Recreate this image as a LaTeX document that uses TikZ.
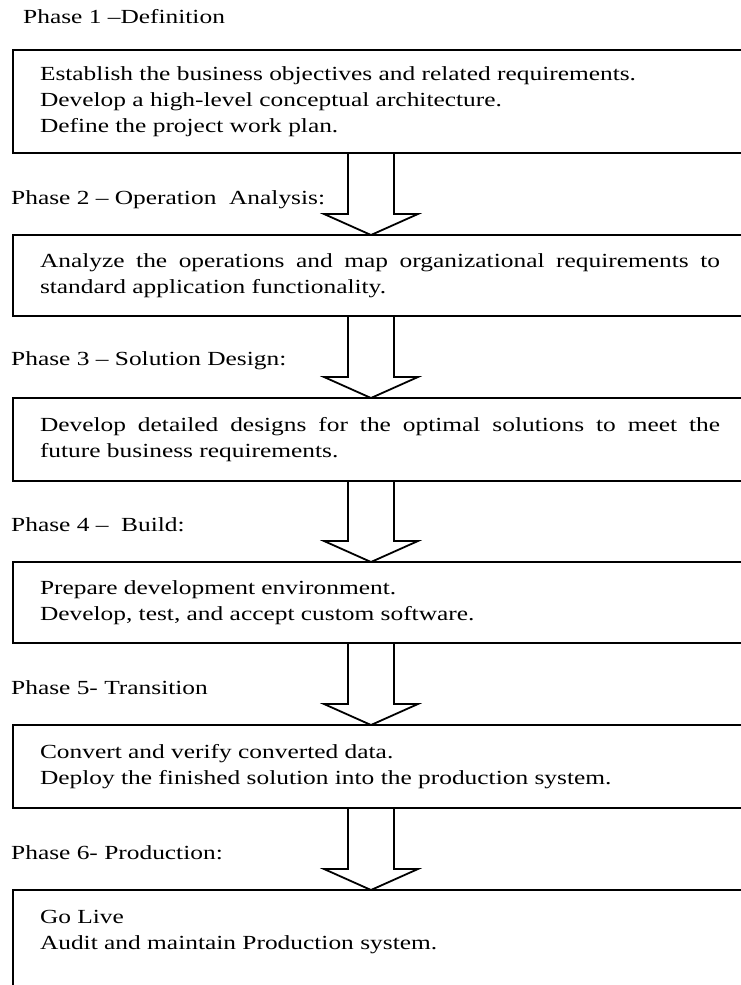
\documentclass[tikz,border=0pt]{standalone}
\usepackage{fontspec}
\setmainfont{Liberation Serif}[FakeStretch=1.27]
\usetikzlibrary{calc,positioning}

\tikzset{
  phasebox/.style={draw,line width=1.8pt,anchor=north west,outer sep=0pt,inner xsep=27pt,inner ysep=0pt,text width=680pt,align=justify},
  lastbox/.style={phasebox,text height=14pt,text depth=110pt,inner ysep=19pt},
  phaselabel/.style={anchor=west,inner sep=0pt},
  flowarrow/.style={line width=1.8pt,line join=miter}
}

\begin{document}
\begin{tikzpicture}[x=1pt,y=-1pt,font=\fontsize{20}{26}\selectfont]
  \useasboundingbox (0,0) rectangle (741,985);
  \clip (0,0) rectangle (741,985);
  % phases
  \node[phaselabel] (p1) at (23,17) {Phase 1 --Definition};
  \node[phasebox,minimum height=103pt] (b1) at (13,50) {Establish the business objectives and related requirements.\\
    Develop a high-level conceptual architecture.\\
    Define the project work plan.};
  \node[phaselabel] (p2) at (11,200) {Phase 2 -- Operation\ \ Analysis:};
  \node[phasebox,minimum height=81pt] (b2) at (13,235) {Analyze the operations and map organizational requirements to\linebreak
    standard application functionality.};
  \node[phaselabel] (p3) at (11,361) {Phase 3 -- Solution Design:};
  \node[phasebox,minimum height=83pt] (b3) at (13,398) {Develop detailed designs for the optimal solutions to meet the\linebreak
    future business requirements.};
  \node[phaselabel] (p4) at (11,525) {Phase 4 --\ \ Build:};
  \node[phasebox,minimum height=81pt] (b4) at (13,562) {Prepare development environment.\\
    Develop, test, and accept custom software.};
  \node[phaselabel] (p5) at (11,688) {Phase 5- Transition};
  \node[phasebox,minimum height=83pt] (b5) at (13,725) {Convert and verify converted data.\\
    Deploy the finished solution into the production system.};
  \node[phaselabel] (p6) at (11,853) {Phase 6- Production:};
  \node[lastbox] (b6) at (13,890) {Go Live\\
    Audit and maintain Production system.};
  % block arrows between the boxes
  \coordinate (ax) at (371,0);
  \foreach \src/\dst in {b1/b2,b2/b3,b3/b4,b4/b5,b5/b6}{
    \coordinate (s) at (\src.south -| ax);
    \coordinate (t) at (\dst.north -| ax);
    \draw[flowarrow] ($(s)+(-23,0)$) -- ($(t)+(-23,-21)$) -- ($(t)+(-47,-21)$) -- (t)
      -- ($(t)+(47,-21)$) -- ($(t)+(23,-21)$) -- ($(s)+(23,0)$);
  }
\end{tikzpicture}
\end{document}
